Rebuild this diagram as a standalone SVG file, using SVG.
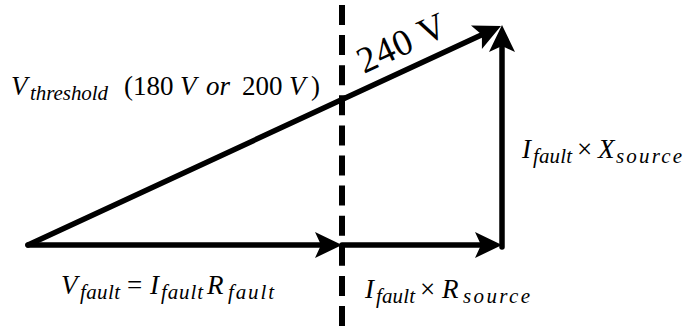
<svg xmlns="http://www.w3.org/2000/svg" width="688" height="329" viewBox="0 0 688 329">
  <style>
    .ln { stroke: #000; stroke-width: 5.5; fill: none; stroke-linecap: round; }
    .dash { stroke: #000; stroke-width: 6; fill: none; stroke-dasharray: 20 10.1; }
    .t { font-family: "Liberation Serif", "Times New Roman", serif; fill: #000; font-size: 27px; }
    .i { font-style: italic; }
    .s { font-style: italic; font-size: 21px; }
    .big { font-family: "Liberation Serif", "Times New Roman", serif; fill: #000; font-size: 37px; }
  </style>
  <defs>
    <marker id="ah" markerUnits="userSpaceOnUse" markerWidth="40" markerHeight="40" refX="0" refY="0" orient="auto" overflow="visible">
      <path d="M21,0 L-6,-13 L0,0 L-6,13 Z" fill="#000"/>
    </marker>
  </defs>
  <rect width="688" height="329" fill="#fff"/>
  <g id="connectors">
    <line class="dash" x1="342" y1="5" x2="342" y2="326"/>
    <line class="ln" x1="28" y1="245" x2="321" y2="245" marker-end="url(#ah)"/>
    <line class="ln" x1="342" y1="245" x2="481" y2="245" marker-end="url(#ah)"/>
    <line class="ln" x1="502" y1="247" x2="502" y2="46" marker-end="url(#ah)"/>
    <line class="ln" x1="28" y1="245" x2="481.9" y2="34.8" marker-end="url(#ah)"/>
  </g>
  <g id="label-threshold">
    <text class="t">
      <tspan class="i" x="11" y="95">V</tspan>
      <tspan class="s" x="30" y="100" textLength="78" lengthAdjust="spacing">threshold</tspan>
      <tspan x="124" y="95">(180</tspan>
      <tspan class="i" x="180" y="95">V</tspan>
      <tspan class="i" x="206" y="95">or</tspan>
      <tspan x="242" y="95">200</tspan>
      <tspan class="i" x="289" y="95">V</tspan>
      <tspan x="311" y="95">)</tspan>
    </text>
  </g>
  <g id="label-240">
    <text class="big" transform="translate(364 74) rotate(-25)" x="0" y="0" textLength="94" lengthAdjust="spacing">240 V</text>
  </g>
  <g id="label-xsource">
    <text class="t">
      <tspan class="i" x="522" y="158">I</tspan>
      <tspan class="s" x="533" y="163" textLength="39" lengthAdjust="spacing">fault</tspan>
      <tspan x="577" y="158">×</tspan>
      <tspan class="i" x="598" y="158">X</tspan>
      <tspan class="s" x="616" y="163" textLength="66" lengthAdjust="spacing">source</tspan>
    </text>
  </g>
  <g id="label-vfault">
    <text class="t">
      <tspan class="i" x="61" y="294">V</tspan>
      <tspan class="s" x="80" y="299" textLength="40" lengthAdjust="spacing">fault</tspan>
      <tspan x="127" y="294">=</tspan>
      <tspan class="i" x="150" y="294">I</tspan>
      <tspan class="s" x="161" y="299" textLength="42" lengthAdjust="spacing">fault</tspan>
      <tspan class="i" x="207" y="294">R</tspan>
      <tspan class="s" x="228" y="299" textLength="46" lengthAdjust="spacing">fault</tspan>
    </text>
  </g>
  <g id="label-rsource">
    <text class="t">
      <tspan class="i" x="365" y="298">I</tspan>
      <tspan class="s" x="376" y="303" textLength="39" lengthAdjust="spacing">fault</tspan>
      <tspan x="420" y="298">×</tspan>
      <tspan class="i" x="442" y="298">R</tspan>
      <tspan class="s" x="463" y="303" textLength="67" lengthAdjust="spacing">source</tspan>
    </text>
  </g>
</svg>
